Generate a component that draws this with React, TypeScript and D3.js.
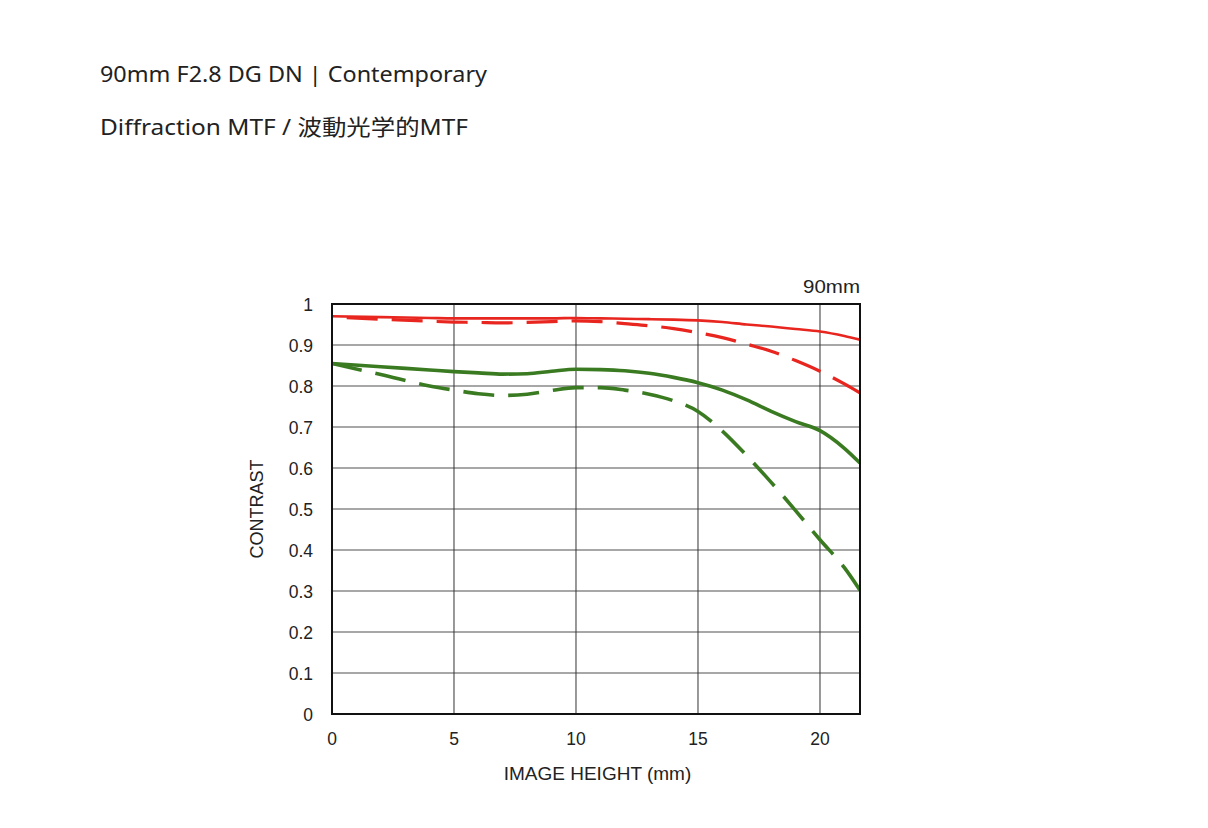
import React, { useLayoutEffect, useRef, useState } from "react";
import * as d3 from "d3";

const titleLine1 = "90mm F2.8 DG DN | Contemporary";
const titleLine2 = "Diffraction MTF / 波動光学的MTF";
const focalLabel = "90mm";
const xAxisLabel = "IMAGE HEIGHT (mm)";
const yAxisLabel = "CONTRAST";

const imageHeight = [0, 2, 4, 5, 6, 7, 8, 9, 10, 11, 12, 13, 14, 15, 16, 17, 18, 19, 20, 21, 21.64];
const redSolid = [0.970, 0.968, 0.966, 0.965, 0.965, 0.965, 0.965, 0.965, 0.966, 0.965, 0.964, 0.963, 0.962, 0.960, 0.956, 0.950, 0.945, 0.939, 0.933, 0.922, 0.913];
const redDashed = [0.968, 0.963, 0.958, 0.956, 0.955, 0.954, 0.955, 0.957, 0.959, 0.957, 0.952, 0.947, 0.940, 0.930, 0.918, 0.902, 0.885, 0.862, 0.836, 0.805, 0.783];
const greenSolid = [0.855, 0.847, 0.839, 0.835, 0.832, 0.829, 0.830, 0.836, 0.841, 0.840, 0.837, 0.831, 0.821, 0.808, 0.790, 0.766, 0.738, 0.713, 0.691, 0.648, 0.612];
const greenDashed = [0.855, 0.828, 0.800, 0.790, 0.781, 0.777, 0.780, 0.789, 0.796, 0.796, 0.790, 0.780, 0.764, 0.738, 0.690, 0.630, 0.565, 0.496, 0.425, 0.357, 0.302];

const xTicks = [0, 5, 10, 15, 20];
const yTicks = [0, 0.1, 0.2, 0.3, 0.4, 0.5, 0.6, 0.7, 0.8, 0.9, 1];
const xMax = 21.64;

const RED = "#e8261f";
const GREEN = "#3a7b22";
const DASH = 31;
const GAP = 14;

export default function App() {
  const left = 332, right = 860, top = 304, bottom = 714;
  const x = d3.scaleLinear().domain([0, xMax]).range([left, right]);
  const y = d3.scaleLinear().domain([0, 1]).range([bottom, top]);
  const line = d3
    .line<number>()
    .x((_, i) => x(imageHeight[i]))
    .y((v) => y(v))
    .curve(d3.curveMonotoneX);

  const series = [
    { data: redDashed, color: RED, width: 3.2, dashed: true },
    { data: redSolid, color: RED, width: 2.6, dashed: false },
    { data: greenDashed, color: GREEN, width: 3.6, dashed: true },
    { data: greenSolid, color: GREEN, width: 3.6, dashed: false },
  ];

  const pathRefs = useRef<(SVGPathElement | null)[]>([]);
  const [offsets, setOffsets] = useState<number[]>([0, 0, 0, 0]);
  useLayoutEffect(() => {
    const period = DASH + GAP;
    const next = pathRefs.current.map((p) => {
      if (!p) return 0;
      const L = p.getTotalLength();
      return (((DASH - L) % period) + period) % period;
    });
    setOffsets(next);
  }, []);

  const tickFont = "'Liberation Sans', Arial, sans-serif";
  const titleFont = "'Noto Sans', 'Noto Sans CJK JP', sans-serif";

  return (
    <svg
      width={1208}
      height={828}
      style={{ position: "fixed", left: 0, top: 0, background: "#fff" }}
    >
      <rect x={0} y={0} width={1208} height={828} fill="#fff" />
      <text x={100} y={82} fontFamily={titleFont} fontSize={21.5} fill="#222" textLength={387} lengthAdjust="spacingAndGlyphs">
        {titleLine1}
      </text>
      <text x={100} y={135} fontFamily={titleFont} fontSize={21.5} fill="#222" textLength={368} lengthAdjust="spacingAndGlyphs">
        {titleLine2}
      </text>

      <defs>
        <clipPath id="plotClip">
          <rect x={left} y={top} width={right - left} height={bottom - top} />
        </clipPath>
      </defs>

      {yTicks.slice(1, -1).map((t) => (
        <line key={"h" + t} x1={left} x2={right} y1={y(t)} y2={y(t)} stroke="#8a8a8a" strokeWidth={1.4} />
      ))}
      {xTicks.slice(1).map((t) => (
        <line key={"v" + t} x1={x(t)} x2={x(t)} y1={top} y2={bottom} stroke="#333" strokeWidth={1} />
      ))}

      <g clipPath="url(#plotClip)">
        {series.map((s, i) => (
          <path
            key={i}
            ref={(el) => {
              pathRefs.current[i] = el;
            }}
            d={line(s.data) || ""}
            fill="none"
            stroke={s.color}
            strokeWidth={s.width}
            strokeDasharray={s.dashed ? `${DASH} ${GAP}` : undefined}
            strokeDashoffset={s.dashed ? offsets[i] : undefined}
            strokeLinecap="butt"
          />
        ))}
      </g>

      <rect x={left} y={top} width={right - left} height={bottom - top} fill="none" stroke="#111" strokeWidth={2} />

      {yTicks.map((t) => (
        <text key={"yl" + t} x={313} y={y(t) + 6.5} textAnchor="end" fontFamily={tickFont} fontSize={17.5} fill="#222">
          {t === 0 ? "0" : t === 1 ? "1" : d3.format(".1f")(t)}
        </text>
      ))}
      {xTicks.map((t) => (
        <text key={"xl" + t} x={x(t)} y={744.5} textAnchor="middle" fontFamily={tickFont} fontSize={17.5} fill="#222">
          {t}
        </text>
      ))}

      <text x={597.5} y={779.5} textAnchor="middle" fontFamily={tickFont} fontSize={19} fill="#222">
        {xAxisLabel}
      </text>
      <text
        transform={`translate(263, ${(top + bottom) / 2}) rotate(-90)`}
        textAnchor="middle"
        fontFamily={tickFont}
        fontSize={18}
        fill="#222"
      >
        {yAxisLabel}
      </text>
      <text x={860} y={292.5} textAnchor="end" fontFamily={tickFont} fontSize={18.5} fill="#222" textLength={57} lengthAdjust="spacingAndGlyphs">
        {focalLabel}
      </text>
    </svg>
  );
}
